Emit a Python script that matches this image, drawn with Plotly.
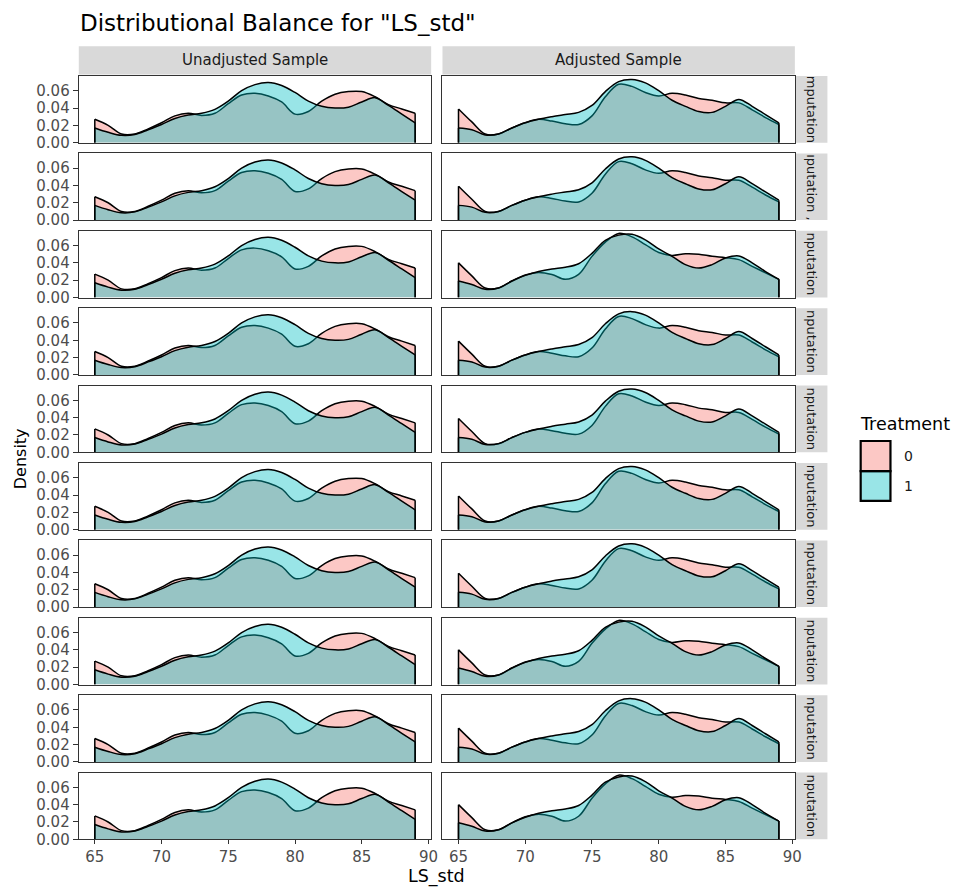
import plotly.graph_objects as go
from plotly.subplots import make_subplots

# page body has an 8px margin on every side; keep the page exactly 968x895
OX, OY = 8, 8
W, H = 968 - 2 * OX, 895 - 2 * OY

# ---------------- data ----------------
ls_std = list(range(65, 90))  # 65 ... 89

# Unadjusted sample (same in all imputations)
unadj_0 = [0.027, 0.020, 0.010, 0.010, 0.016, 0.023, 0.031, 0.034, 0.0315, 0.034, 0.045, 0.055, 0.057,
           0.054, 0.047, 0.033, 0.036, 0.048, 0.056, 0.059, 0.059, 0.053, 0.044, 0.039, 0.034]
unadj_1 = [0.017, 0.012, 0.0085, 0.0095, 0.015, 0.021, 0.028, 0.032, 0.034, 0.0385, 0.048, 0.060, 0.067,
           0.0695, 0.066, 0.058, 0.048, 0.042, 0.040, 0.041, 0.047, 0.052, 0.043, 0.033, 0.023]

# Adjusted sample, pattern A
adj_0_a = [0.039, 0.024, 0.010, 0.010, 0.017, 0.023, 0.027, 0.025, 0.022, 0.021, 0.031, 0.053, 0.0675,
           0.065, 0.058, 0.054, 0.057, 0.055, 0.051, 0.049, 0.046, 0.046, 0.038, 0.029, 0.021]
adj_1_a = [0.017, 0.015, 0.009, 0.010, 0.017, 0.023, 0.027, 0.030, 0.0325, 0.035, 0.043, 0.059, 0.0705,
           0.073, 0.069, 0.060, 0.049, 0.042, 0.036, 0.035, 0.042, 0.050, 0.042, 0.0325, 0.023]
# Adjusted sample, pattern B
adj_0_b = [0.040, 0.025, 0.011, 0.011, 0.019, 0.026, 0.029, 0.0266, 0.021, 0.0266, 0.0475, 0.064, 0.074,
           0.070, 0.061, 0.052, 0.0486, 0.0505, 0.050, 0.0475, 0.046, 0.0437, 0.036, 0.0285, 0.021]
adj_1_b = [0.019, 0.015, 0.0095, 0.011, 0.019, 0.0255, 0.030, 0.033, 0.035, 0.039, 0.051, 0.066, 0.072,
           0.073, 0.0665, 0.056, 0.0475, 0.038, 0.034, 0.038, 0.0456, 0.048, 0.040, 0.030, 0.021]

adj_pattern = ["a", "a", "b", "a", "a", "a", "a", "b", "a", "b"]
col_labels = ["Unadjusted Sample", "Adjusted Sample"]
row_labels = ["mputation", "ıputation ,", "nputation", "nputation", "nputation",
              "nputation", "nputation", "nputation", "nputation", "nputation"]
treat_labels = ["0", "1"]
x_ticks = [65, 70, 75, 80, 85, 90]
y_ticks = [0.00, 0.02, 0.04, 0.06]
y_tick_text = ["0.00", "0.02", "0.04", "0.06"]

# ---------------- style ----------------
FONT = "DejaVu Sans"
fills = ["rgba(248,118,109,0.4)", "rgba(0,191,196,0.4)"]
LW = 1.5
col_x = [(79.3, 434.3), (445.7, 800.7)]
top0, pitch, ph = 76.7, 78.2, 67.4
NR = 10

fig = make_subplots(rows=NR, cols=2)


def fx(p):
    return (p - OX) / W


def fy(p):
    return 1 - (p - OY) / H


for r in range(NR):
    for c in range(2):
        if c == 0:
            series = [unadj_0, unadj_1]
        else:
            series = [adj_0_a, adj_1_a] if adj_pattern[r] == "a" else [adj_0_b, adj_1_b]
        for k, vals in enumerate(series):
            fig.add_trace(go.Scatter(
                x=ls_std, y=vals, mode="lines", fill="tozeroy", fillcolor=fills[k],
                line=dict(color="black", width=LW, shape="spline", smoothing=1.0),
                showlegend=False, hoverinfo="skip"), row=r + 1, col=c + 1)
            fig.add_trace(go.Scatter(
                x=[ls_std[0], ls_std[0], None, ls_std[-1], ls_std[-1]],
                y=[0, vals[0], None, 0, vals[-1]], mode="lines",
                line=dict(color="black", width=LW),
                showlegend=False, hoverinfo="skip"), row=r + 1, col=c + 1)

        idx = r * 2 + c + 1
        sfx = "" if idx == 1 else str(idx)
        top = top0 + r * pitch
        bot = top + ph
        xd = [fx(col_x[c][0]), fx(col_x[c][1])]
        yd = [fy(bot), fy(top)]
        bottom_row = (r == NR - 1)
        fig.layout["xaxis" + sfx].update(
            domain=xd, range=[63.8, 90.2], showgrid=False, zeroline=False,
            showline=True, mirror=True, linecolor="#333333", linewidth=1.1,
            ticks="outside" if bottom_row else "", ticklen=4, tickcolor="#333333",
            tickvals=x_ticks, showticklabels=bottom_row, ticklabelstandoff=0,
            tickfont=dict(family=FONT, size=15, color="#4D4D4D"))
        fig.layout["yaxis" + sfx].update(
            domain=yd, range=[0, 0.077], showgrid=False, zeroline=False,
            showline=True, mirror=True, linecolor="#333333", linewidth=1.1,
            ticks="outside" if c == 0 else "", ticklen=5, tickcolor="#333333",
            tickvals=y_ticks, ticktext=y_tick_text, showticklabels=(c == 0),
            tickfont=dict(family=FONT, size=15, color="#4D4D4D"))

shapes = []
annotations = []
# top strips
for c in range(2):
    shapes.append(dict(type="rect", xref="paper", yref="paper",
                       x0=fx(col_x[c][0]), x1=fx(col_x[c][1]), y0=fy(75.2), y1=fy(46.7),
                       fillcolor="#D9D9D9", line=dict(width=0), layer="below"))
    annotations.append(dict(xref="paper", yref="paper", x=fx((col_x[c][0] + col_x[c][1]) / 2),
                            y=fy(61), text=col_labels[c], showarrow=False,
                            xanchor="center", yanchor="middle",
                            font=dict(family=FONT, size=15, color="#1A1A1A")))
# right strips
for r in range(NR):
    top = top0 + r * pitch
    bot = top + ph
    shapes.append(dict(type="rect", xref="paper", yref="paper",
                       x0=fx(801.2), x1=fx(833.5), y0=fy(bot), y1=fy(top),
                       fillcolor="#D9D9D9", line=dict(width=0), layer="below"))
    annotations.append(dict(xref="paper", yref="paper", x=fx(817.5), y=fy((top + bot) / 2),
                            text=row_labels[r], showarrow=False, textangle=90,
                            xanchor="center", yanchor="middle",
                            font=dict(family=FONT, size=13, color="#1A1A1A")))

# axis titles
annotations.append(dict(xref="paper", yref="paper", x=fx(440), y=fy(885.5), text="LS_std",
                        showarrow=False, xanchor="center", yanchor="middle",
                        font=dict(family=FONT, size=17.5, color="black")))
annotations.append(dict(xref="paper", yref="paper", x=fx(20), y=fy(463), text="Density",
                        showarrow=False, xanchor="center", yanchor="middle", textangle=-90,
                        font=dict(family=FONT, size=16, color="black")))
# title
annotations.append(dict(xref="paper", yref="paper", x=fx(79), y=fy(23),
                        text='Distributional Balance for "LS_std"',
                        showarrow=False, xanchor="left", yanchor="middle",
                        font=dict(family=FONT, size=23, color="black")))

# legend (drawn manually, ggplot style)
annotations.append(dict(xref="paper", yref="paper", x=fx(864), y=fy(428), text="Treatment",
                        showarrow=False, xanchor="left", yanchor="middle",
                        font=dict(family=FONT, size=17.5, color="black")))
key_y = [(445.5, 476), (476, 506)]
for k in range(2):
    shapes.append(dict(type="rect", xref="paper", yref="paper",
                       x0=fx(867), x1=fx(897), y0=fy(key_y[k][1]), y1=fy(key_y[k][0]),
                       fillcolor=fills[k], line=dict(color="black", width=2.2)))
    annotations.append(dict(xref="paper", yref="paper", x=fx(909),
                            y=fy((key_y[k][0] + key_y[k][1]) / 2), text=treat_labels[k],
                            showarrow=False, xanchor="left", yanchor="middle",
                            font=dict(family=FONT, size=14, color="#1A1A1A")))

fig.update_layout(
    width=W, height=H, margin=dict(l=0, r=0, t=0, b=0),
    paper_bgcolor="white", plot_bgcolor="white",
    shapes=shapes, annotations=annotations, showlegend=False)

fig.write_html("out.html")
